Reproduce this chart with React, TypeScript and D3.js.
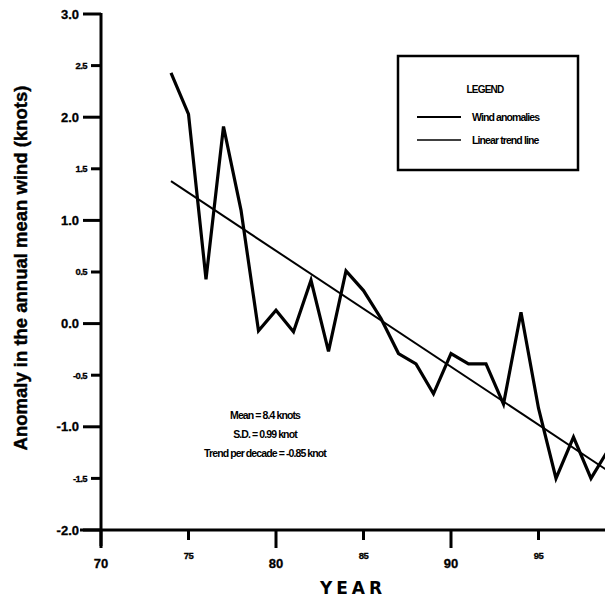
import React from "react";
import * as d3 from "d3";

const years = [74, 75, 76, 77, 78, 79, 80, 81, 82, 83, 84, 85, 86, 87, 88, 89, 90, 91, 92, 93, 94, 95, 96, 97, 98, 99];
const anomalies = [2.43, 2.03, 0.43, 1.91, 1.1, -0.07, 0.13, -0.08, 0.42, -0.27, 0.51, 0.32, 0.05, -0.29, -0.39, -0.68, -0.29, -0.39, -0.39, -0.78, 0.11, -0.82, -1.5, -1.1, -1.5, -1.22];
const trendYears = [74, 99];
const trendValues = [1.38, -1.43];
const yMajorTicks = [3, 2, 1, 0, -1, -2];
const yMinorTicks = [2.5, 1.5, 0.5, -0.5, -1.5];
const xMajorTicks = [70, 80, 90];
const xMinorTicks = [75, 85, 95];
const statsLines = ["Mean = 8.4 knots", "S.D. = 0.99 knot", "Trend per decade = -0.85 knot"];
const legendItems = ["Wind anomalies", "Linear trend line"];

export default function App() {
  const W = 605, H = 600;
  const x = d3.scaleLinear().domain([70, 100]).range([101, 626]);
  const y = d3.scaleLinear().domain([-2, 3]).range([530, 14]);
  const line = d3.line<[number, number]>().x(d => x(d[0])).y(d => y(d[1]));
  const dataPts: [number, number][] = years.map((yr, i) => [yr, anomalies[i]]);
  const trendPts: [number, number][] = trendYears.map((yr, i) => [yr, trendValues[i]]);
  const font = "'Liberation Sans', Arial, sans-serif";
  const x0 = x(70), yb = y(-2);
  return (
    <svg width={W} height={H} style={{ position: "absolute", left: 0, top: 0, background: "#fff" }} fontFamily={font}>
      <rect x={0} y={0} width={W} height={H} fill="#fff" />
      {/* axes */}
      <line x1={x0} x2={x0} y1={y(3) - 1} y2={yb + 16} stroke="#000" strokeWidth={3} />
      <line x1={80} x2={W} y1={yb} y2={yb} stroke="#000" strokeWidth={3} />
      {yMajorTicks.map(t => (
        <g key={"ym" + t}>
          <line x1={x0 - 18} x2={x0} y1={y(t)} y2={y(t)} stroke="#000" strokeWidth={3} />
          <text x={x0 - 22} y={y(t)} dy="0.35em" textAnchor="end" fontSize={13} fontWeight="bold" stroke="#000" strokeWidth={0.3}>{t.toFixed(1)}</text>
        </g>
      ))}
      {yMinorTicks.map(t => (
        <g key={"yn" + t}>
          <line x1={x0 - 10} x2={x0} y1={y(t)} y2={y(t)} stroke="#000" strokeWidth={3} />
          <text x={x0 - 14} y={y(t)} dy="0.35em" textAnchor="end" fontSize={9.5} fontWeight="bold" letterSpacing={-0.6} stroke="#000" strokeWidth={0.3}>{t.toFixed(1)}</text>
        </g>
      ))}
      {xMajorTicks.map(t => (
        <g key={"xm" + t}>
          <line x1={x(t)} x2={x(t)} y1={yb} y2={yb + 18} stroke="#000" strokeWidth={3} />
          <text x={x(t)} y={yb + 38} textAnchor="middle" fontSize={13} fontWeight="bold" stroke="#000" strokeWidth={0.3}>{t}</text>
        </g>
      ))}
      {xMinorTicks.map(t => (
        <g key={"xn" + t}>
          <line x1={x(t)} x2={x(t)} y1={yb} y2={yb + 10} stroke="#000" strokeWidth={3} />
          <text x={x(t)} y={yb + 29} textAnchor="middle" fontSize={9.5} fontWeight="bold" letterSpacing={-0.6} stroke="#000" strokeWidth={0.3}>{t}</text>
        </g>
      ))}
      <text x={353} y={594} textAnchor="middle" fontSize={17} fontWeight="900" letterSpacing={4} fontFamily="'DejaVu Sans', sans-serif">YEAR</text>
      <text transform={`translate(27,268) rotate(-90)`} textAnchor="middle" fontSize={18.5} fontWeight="bold" stroke="#000" strokeWidth={0.4}>Anomaly in the annual mean wind (knots)</text>
      {/* series */}
      <path d={line(trendPts) || ""} fill="none" stroke="#000" strokeWidth={2} />
      <path d={line(dataPts) || ""} fill="none" stroke="#000" strokeWidth={3.2} strokeLinejoin="miter" />
      {/* legend */}
      <rect x={398} y={56} width={180} height={114} fill="#fff" stroke="#000" strokeWidth={2.5} />
      <text x={485} y={93} textAnchor="middle" fontSize={10} fontWeight="bold" letterSpacing={-0.8}>LEGEND</text>
      <line x1={417} x2={461} y1={117} y2={117} stroke="#000" strokeWidth={2.2} />
      <line x1={417} x2={461} y1={140} y2={140} stroke="#000" strokeWidth={1.5} />
      {legendItems.map((s, i) => (
        <text key={s} x={472} y={117 + i * 23} dy="0.35em" fontSize={10.5} fontWeight="bold" letterSpacing={-0.9}>{s}</text>
      ))}
      {/* stats */}
      {statsLines.map((s, i) => (
        <text key={s} x={265} y={[415, 434, 453][i]} dy="0.35em" textAnchor="middle" fontSize={10.5} fontWeight="bold" letterSpacing={-0.9}>{s}</text>
      ))}
    </svg>
  );
}
